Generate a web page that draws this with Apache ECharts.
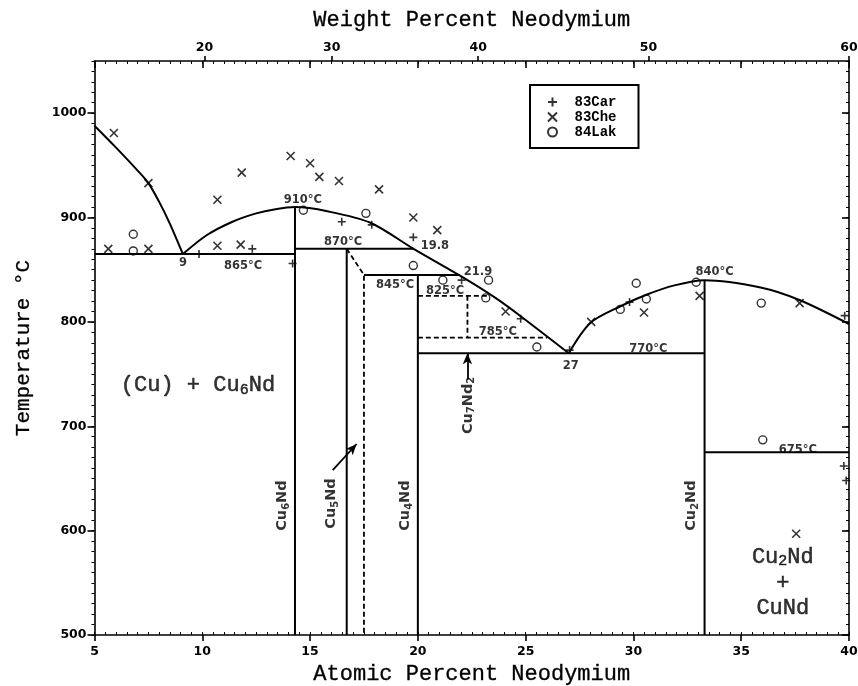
<!DOCTYPE html>
<html><head><meta charset="utf-8">
<script src="https://cdn.jsdelivr.net/npm/echarts@6/dist/echarts.min.js"></script>
<style>html,body{margin:0;padding:0;background:#fff}#c{width:858px;height:686px}</style>
</head><body><div id="c"></div>
<script>
// ---- axis ticks ----
const atomicTicks = [5, 10, 15, 20, 25, 30, 35, 40];
const tempTicks = [500, 600, 700, 800, 900, 1000];
const weightTickLabels = [20, 30, 40, 50, 60];
const weightTickAtomic = [10.1, 16.0, 22.8, 30.7, 40.0];

// ---- phase boundaries (at% Nd, °C) ----
const liquidusCu = [[5, 988], [6, 967], [7, 945], [7.5, 933], [8, 915], [8.5, 894], [9.1, 865]];
const liquidusCu6Nd = [[9.1, 865], [10.2, 883], [11.4, 896], [12.5, 904], [13.4, 908], [14.3, 910], [15.8, 906], [17.8, 895], [19.8, 870], [21.9, 845], [23.6, 823], [24.8, 805], [27, 770]];
const liquidusCu2Nd = [[27, 770], [28, 799], [29.4, 815], [30.6, 826], [31.9, 835], [33.3, 840], [35.9, 833], [37.7, 821], [40, 798]];

const lineCu6Nd = [[14.3, 500], [14.3, 910]];
const lineCu5Nd = [[16.7, 500], [16.7, 870]];
const lineCu4Nd = [[20, 500], [20, 845]];
const lineCu2Nd = [[33.3, 500], [33.3, 840]];
const eutectic865 = [[5, 865], [14.3, 865]];
const peritectic870 = [[14.3, 870], [19.8, 870]];
const peritectic845 = [[17.5, 845], [21.9, 845]];
const eutectic770 = [[20, 770], [33.3, 770]];
const eutectoid675 = [[33.3, 675], [40, 675]];

const boundaryCu5Nd = [[16.7, 870], [17.5, 845], [17.5, 500]];
const dashed825 = [[20, 825], [23.3, 825]];
const lineCu7Nd2 = [[22.3, 825], [22.3, 785]];
const dashed785 = [[20, 785], [26.0, 785]];

const arrowCu5Nd = [[16.05, 658], [17.16, 683]];
const arrowCu7Nd2 = [[22.3, 745], [22.3, 770]];

// ---- experimental data ----
const car83 = [[9.85, 865], [12.32, 870], [14.19, 856], [16.47, 896], [17.86, 893], [19.79, 881], [22.03, 840], [24.77, 803], [27.04, 773], [29.82, 819], [39.80, 806], [39.76, 662], [39.87, 648]];
const che83 = [[5.90, 981], [7.50, 933], [10.70, 917], [11.83, 943], [14.10, 959], [15.00, 952], [15.43, 939], [16.34, 935], [18.20, 927], [19.79, 900], [20.90, 888], [5.64, 870], [7.50, 870], [10.70, 873], [11.78, 874], [24.07, 810], [28.04, 800], [30.49, 809], [33.07, 825], [37.71, 818], [37.55, 597]];
const lak84 = [[6.80, 884], [6.80, 868], [14.69, 907], [17.59, 904], [19.79, 854], [21.16, 840], [23.28, 840], [23.15, 823], [25.52, 776], [29.39, 812], [30.13, 837], [30.60, 822], [32.91, 838], [35.93, 818], [36.0, 687]];

// ---- annotations ----
const tempLabels = [
  ['910°C', 14.67, 917], ['870°C', 16.53, 876.4], ['19.8', 20.79, 873], ['9', 9.1, 856],
  ['865°C', 11.89, 854], ['845°C', 18.94, 835], ['825°C', 21.26, 830], ['21.9', 22.79, 848],
  ['785°C', 23.71, 790], ['27', 27.09, 758], ['770°C', 30.69, 774], ['840°C', 33.77, 848], ['675°C', 37.63, 677]
];
const regionLabels = [
  ['(Cu) + {n|Cu}{s|6}{n|Nd}', 9.8, 739], ['{n|Cu}{s|2}{n|Nd}', 36.93, 575], ['+', 36.93, 550], ['CuNd', 36.93, 526]
];
const phaseLabels = [
  ['{n|Cu}{s|6}{n|Nd}', 13.70, 624], ['{n|Cu}{s|5}{n|Nd}', 15.97, 626], ['{n|Cu}{s|4}{n|Nd}', 19.40, 624],
  ['{n|Cu}{s|7}{n|Nd}{s|2}', 22.32, 720], ['{n|Cu}{s|2}{n|Nd}', 32.67, 624]
];

const chart = echarts.init(document.getElementById('c'), null, {renderer: 'canvas'});
const black = '#000';
const axisFont = {fontFamily: 'DejaVu Sans', fontWeight: 'bold', fontSize: 12.5, color: black};
const mono = 'Liberation Mono';
const thick = {textBorderColor: black, textBorderWidth: 0.5};

function solid(data, w) {
  return {type: 'line', data: data, symbol: 'none', silent: true, z: 3,
    lineStyle: {color: black, width: w || 2}, xAxisIndex: 0, yAxisIndex: 0};
}
function dashed(data) {
  return {type: 'line', data: data, symbol: 'none', silent: true, z: 3,
    lineStyle: {color: black, width: 1.8, type: [5, 3]}, xAxisIndex: 0, yAxisIndex: 0};
}
function smoothLine(data) {
  const s = solid(data, 2); s.smooth = 0.3; return s;
}
function labelSeries(list, style, rotate, rich) {
  return {type: 'scatter', symbolSize: 1, itemStyle: {color: 'rgba(0,0,0,0)'}, silent: true, z: 6,
    xAxisIndex: 0, yAxisIndex: 0,
    data: list.map(a => ({value: [a[1], a[2]], label: {formatter: a[0]}})),
    label: Object.assign({show: true, position: 'inside', color: black, rotate: rotate || 0, rich: rich || {}}, style)};
}

const series = [
  smoothLine(liquidusCu), smoothLine(liquidusCu6Nd), smoothLine(liquidusCu2Nd),
  solid(lineCu6Nd), solid(lineCu5Nd), solid(lineCu4Nd), solid(lineCu2Nd),
  solid(eutectic865), solid(peritectic870), solid(peritectic845), solid(eutectic770), solid(eutectoid675),
  dashed(boundaryCu5Nd), dashed(dashed825), dashed(lineCu7Nd2), dashed(dashed785),
  {type: 'line', data: [], xAxisIndex: 0, yAxisIndex: 0, silent: true,
    markLine: {silent: true, symbol: ['none', 'arrow'], symbolSize: [7, 11], label: {show: false},
      lineStyle: {color: black, width: 1.8, type: 'solid'},
      data: [[{coord: arrowCu5Nd[0]}, {coord: arrowCu5Nd[1]}], [{coord: arrowCu7Nd2[0]}, {coord: arrowCu7Nd2[1]}]]}},
  {name: '83Car', type: 'scatter', data: car83, symbol: 'path://M0,5L10,5M5,0L5,10', symbolSize: 8, symbolKeepAspect: true,
    itemStyle: {color: 'rgba(0,0,0,0)', borderColor: black, borderWidth: 1.6}, z: 5, xAxisIndex: 0, yAxisIndex: 0},
  {name: '83Che', type: 'scatter', data: che83, symbol: 'path://M0,0L10,10M10,0L0,10', symbolSize: 8, symbolKeepAspect: true,
    itemStyle: {color: 'rgba(0,0,0,0)', borderColor: black, borderWidth: 1.6}, z: 5, xAxisIndex: 0, yAxisIndex: 0},
  {name: '84Lak', type: 'scatter', data: lak84, symbol: 'circle', symbolSize: 8,
    itemStyle: {color: 'rgba(0,0,0,0)', borderColor: black, borderWidth: 1.4}, z: 5, xAxisIndex: 0, yAxisIndex: 0},
  labelSeries(tempLabels, {fontFamily: 'DejaVu Sans', fontWeight: 'bold', fontSize: 11.5}),
  labelSeries(regionLabels, Object.assign({fontFamily: mono, fontSize: 22}, thick), 0, {
    n: Object.assign({fontFamily: mono, fontSize: 22, lineHeight: 24, color: black}, thick),
    s: Object.assign({fontFamily: mono, fontSize: 15, lineHeight: 14, verticalAlign: 'bottom', color: black}, thick)}),
  labelSeries(phaseLabels, {fontFamily: 'DejaVu Sans', fontWeight: 'bold', fontSize: 14.5}, 90, {
    n: {fontFamily: 'DejaVu Sans', fontWeight: 'bold', fontSize: 14.5, lineHeight: 18, color: black},
    s: {fontFamily: 'DejaVu Sans', fontWeight: 'bold', fontSize: 10, lineHeight: 10, verticalAlign: 'bottom', color: black}})
];

const frame = {color: black, width: 1.6};
const thin = {color: black, width: 1};
const plain = v => String(v);
const nameStyle = Object.assign({fontFamily: mono, fontSize: 22, color: black, textBorderWidth: 0.3, textBorderColor: black});
const option = {
  animation: false,
  backgroundColor: '#fff',
  grid: {left: 94.5, right: 9, top: 61, bottom: 51, outerBoundsMode: 'none', containLabel: false},
  legend: {data: ['83Car', '83Che', '84Lak'], orient: 'vertical', left: 530, top: 85,
    padding: [10, 22, 9, 17], itemGap: 1, itemWidth: 10, itemHeight: 9,
    borderColor: black, borderWidth: 2, selectedMode: false,
    textStyle: {fontFamily: mono, fontWeight: 'bold', fontSize: 14, color: black, padding: [0, 0, 0, 12]}},
  xAxis: [
    {type: 'value', position: 'bottom', min: 5, max: 40, interval: 5,
      axisLine: {show: true, onZero: false, lineStyle: frame},
      axisTick: {show: true, inside: false, length: 6, customValues: atomicTicks, lineStyle: frame},
      axisLabel: Object.assign({margin: 10, customValues: atomicTicks, formatter: plain}, axisFont), splitLine: {show: false},
      name: 'Atomic Percent Neodymium', nameLocation: 'middle', nameGap: 27, nameTextStyle: nameStyle},
    {type: 'value', position: 'bottom', min: 5, max: 40, interval: 0.5,
      axisLine: {show: false}, axisTick: {show: true, inside: true, length: 3, lineStyle: thin},
      axisLabel: {show: false}, splitLine: {show: false}},
    {type: 'value', position: 'top', min: 5, max: 40, interval: 5,
      axisLine: {show: true, onZero: false, lineStyle: frame},
      axisTick: {show: true, inside: true, length: 7, lineStyle: frame},
      axisLabel: {show: false}, splitLine: {show: false}},
    {type: 'value', position: 'top', min: 5, max: 40, interval: 0.5,
      axisLine: {show: false}, axisTick: {show: true, inside: true, length: 3, lineStyle: thin},
      axisLabel: {show: false}, splitLine: {show: false}},
    {type: 'value', position: 'top', min: 5, max: 40,
      axisLine: {show: false},
      axisTick: {show: true, inside: false, length: 5, customValues: weightTickAtomic, lineStyle: frame},
      axisLabel: Object.assign({margin: 7, customValues: weightTickAtomic,
        formatter: function (v) {
          let best = 0;
          weightTickAtomic.forEach((a, i) => { if (Math.abs(a - v) < Math.abs(weightTickAtomic[best] - v)) best = i; });
          return String(weightTickLabels[best]);
        }}, axisFont),
      splitLine: {show: false},
      name: 'Weight Percent Neodymium', nameLocation: 'middle', nameGap: 30, nameTextStyle: nameStyle}
  ],
  yAxis: [
    {type: 'value', position: 'left', min: 500, max: 1050, interval: 100,
      axisLine: {show: true, onZero: false, lineStyle: frame},
      axisTick: {show: true, inside: false, length: 7, customValues: tempTicks, lineStyle: frame},
      axisLabel: Object.assign({margin: 8, customValues: tempTicks, formatter: plain}, axisFont), splitLine: {show: false},
      name: 'Temperature °C', nameLocation: 'middle', nameRotate: 90, nameGap: 61,
      nameTextStyle: Object.assign({}, nameStyle, {fontSize: 21})},
    {type: 'value', position: 'left', min: 500, max: 1050, interval: 10,
      axisLine: {show: false}, axisTick: {show: true, inside: false, length: 3, lineStyle: thin},
      axisLabel: {show: false}, splitLine: {show: false}},
    {type: 'value', position: 'right', min: 500, max: 1050, interval: 100,
      axisLine: {show: true, onZero: false, lineStyle: frame},
      axisTick: {show: true, inside: true, length: 7, customValues: tempTicks, lineStyle: frame},
      axisLabel: {show: false}, splitLine: {show: false}},
    {type: 'value', position: 'right', min: 500, max: 1050, interval: 10,
      axisLine: {show: false}, axisTick: {show: true, inside: true, length: 3, lineStyle: thin},
      axisLabel: {show: false}, splitLine: {show: false}}
  ],
  series: series
};
chart.setOption(option);
</script></body></html>
